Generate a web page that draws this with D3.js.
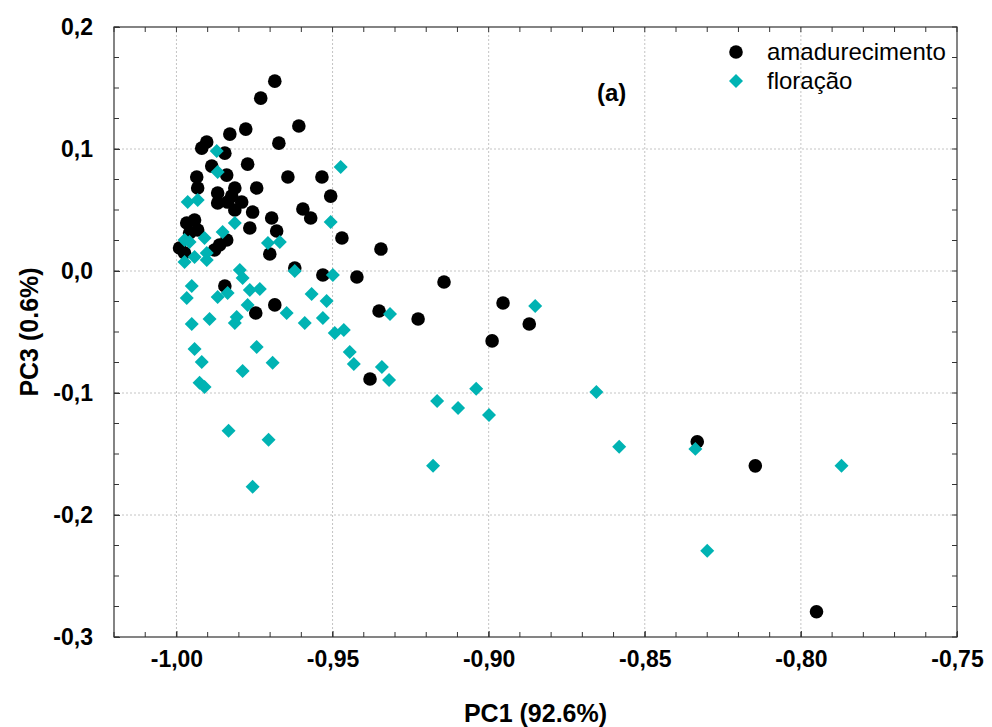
<!DOCTYPE html>
<html>
<head>
<meta charset="utf-8">
<script src="https://cdn.jsdelivr.net/npm/d3@7"></script>
<style>
  body { margin: 0; background: #fff; }
  svg { display: block; font-family: "Liberation Sans", Arial, sans-serif; }
</style>
</head>
<body>
<svg id="chart" width="992" height="727"></svg>
<script>
// amadurecimento (black circles)
const amadX = [-0.9685, -0.973, -0.9608, -0.9778, -0.9829, -0.9672, -0.9903, -0.9919, -0.9845, -0.9772,
  -0.9887, -0.9839, -0.9935, -0.9643, -0.9534, -0.9932, -0.9868, -0.9813, -0.9743, -0.9506,
  -0.9836, -0.9791, -0.9595, -0.957, -0.9756, -0.9695, -0.9813, -0.9868, -0.9967, -0.9942,
  -0.9958, -0.9932, -0.9765, -0.9679, -0.947, -0.9862, -0.9839, -0.9878, -0.999, -0.9974,
  -0.9345, -0.9701, -0.9621, -0.9531, -0.9422, -0.9143, -0.9845, -0.9746, -0.9685, -0.9351,
  -0.9226, -0.8954, -0.887, -0.8989, -0.938, -0.8332, -0.8146, -0.795, -0.9823]
const amadY = [0.1556, 0.1417, 0.1188, 0.1163, 0.1122, 0.1048, 0.1057, 0.1007, 0.0966, 0.0876,
  0.086, 0.0786, 0.077, 0.077, 0.077, 0.068, 0.0639, 0.068, 0.068, 0.0614,
  0.0565, 0.0565, 0.0508, 0.0434, 0.0483, 0.0434, 0.05, 0.0557, 0.0393, 0.0418,
  0.0311, 0.0336, 0.0352, 0.0328, 0.027, 0.0213, 0.0254, 0.0172, 0.0188, 0.0147,
  0.018, 0.0139, 0.0025, -0.0033, -0.0049, -0.009, -0.0123, -0.0344, -0.0278, -0.0328,
  -0.0393, -0.0262, -0.0434, -0.0573, -0.0885, -0.14, -0.1597, -0.2793, 0.0614]

// floração (teal diamonds)
const florX = [-0.9474, -0.9871, -0.9868, -0.9964, -0.9932, -0.9813, -0.9852, -0.991, -0.9974, -0.9958,
  -0.9903, -0.9942, -0.9974, -0.9903, -0.9797, -0.9788, -0.9707, -0.9669, -0.9506, -0.9621,
  -0.9499, -0.9951, -0.9967, -0.9868, -0.9836, -0.9765, -0.9733, -0.9772, -0.9807, -0.9813,
  -0.9894, -0.9951, -0.9942, -0.9919, -0.9743, -0.9788, -0.9926, -0.991, -0.9567, -0.9519,
  -0.9647, -0.9589, -0.9531, -0.9493, -0.9464, -0.9445, -0.9432, -0.9692, -0.9316, -0.8851,
  -0.9342, -0.9319, -0.904, -0.9165, -0.9098, -0.8999, -0.8655, -0.9833, -0.9705, -0.9756,
  -0.9178, -0.8582, -0.8338, -0.83, -0.787]
const florY = [0.0852, 0.0983, 0.0811, 0.0565, 0.0581, 0.0393, 0.0319, 0.027, 0.0254, 0.0238,
  0.0147, 0.0115, 0.0074, 0.009, 0.0008, -0.0057, 0.0229, 0.0238, 0.0401, 0.0,
  -0.0033, -0.0123, -0.0221, -0.0213, -0.018, -0.0156, -0.0147, -0.0278, -0.0377, -0.0426,
  -0.0393, -0.0434, -0.0639, -0.0745, -0.0622, -0.0819, -0.0917, -0.095, -0.0188, -0.0246,
  -0.0344, -0.0426, -0.0385, -0.0508, -0.0483, -0.0663, -0.0762, -0.0753, -0.0352, -0.0287,
  -0.0786, -0.0893, -0.0966, -0.1065, -0.1122, -0.118, -0.0991, -0.131, -0.1384, -0.1769,
  -0.1597, -0.1441, -0.1458, -0.2293, -0.1597]

const xTicks = [-1.00, -0.95, -0.90, -0.85, -0.80, -0.75]
const yTicks = [0.2, 0.1, 0.0, -0.1, -0.2, -0.3]
const seriesNames = ["amadurecimento", "floração"]

const black = "#000"
const teal = "#00b3b3"

const svg = d3.select("#chart")
const mLeft = 114, mRight = 957, mTop = 27, mBottom = 637

const x = d3.scaleLinear().domain([-1.02, -0.75]).range([mLeft, mRight])
const y = d3.scaleLinear().domain([-0.3, 0.2]).range([mBottom, mTop])

const fmt = (n) => d => (d < -1e-9 ? "-" : "") + Math.abs(d).toFixed(n).replace(".", ",")

// grid
svg.append("g").selectAll("line").data(xTicks.slice(0, -1)).join("line")
  .attr("x1", d => x(d)).attr("x2", d => x(d)).attr("y1", mTop).attr("y2", mBottom)
  .attr("stroke", "#c4c4c4").attr("stroke-dasharray", "2,2")
svg.append("g").selectAll("line").data(yTicks.slice(1, -1)).join("line")
  .attr("y1", d => y(d)).attr("y2", d => y(d)).attr("x1", mLeft).attr("x2", mRight)
  .attr("stroke", "#c4c4c4").attr("stroke-dasharray", "2,2")

// minor ticks on all four sides
const xMinor = d3.range(-1.02, -0.7499, 0.01)
const yMinor = d3.range(-0.3, 0.2001, 0.025)
const tickCol = "#333"
svg.append("g").selectAll("line").data(xMinor).join("line")
  .attr("x1", d => x(d)).attr("x2", d => x(d)).attr("y1", mBottom).attr("y2", mBottom - 5).attr("stroke", tickCol)
svg.append("g").selectAll("line").data(xMinor).join("line")
  .attr("x1", d => x(d)).attr("x2", d => x(d)).attr("y1", mTop).attr("y2", mTop + 5).attr("stroke", tickCol)
svg.append("g").selectAll("line").data(yMinor).join("line")
  .attr("y1", d => y(d)).attr("y2", d => y(d)).attr("x1", mLeft).attr("x2", mLeft + 5).attr("stroke", tickCol)
svg.append("g").selectAll("line").data(yMinor).join("line")
  .attr("y1", d => y(d)).attr("y2", d => y(d)).attr("x1", mRight).attr("x2", mRight - 5).attr("stroke", tickCol)

// axes (labels)
const xAxis = svg.append("g").attr("transform", `translate(0,${mBottom})`)
  .call(d3.axisBottom(x).tickValues(xTicks).tickFormat(fmt(2)).tickSize(-6).tickPadding(14))
const yAxis = svg.append("g").attr("transform", `translate(${mLeft},0)`)
  .call(d3.axisLeft(y).tickValues(yTicks).tickFormat(fmt(1)).tickSize(-6).tickPadding(21))
;[xAxis, yAxis].forEach(a => {
  a.select(".domain").remove()
  a.selectAll("line").attr("stroke", tickCol)
  a.selectAll("text").attr("fill", "#000").style("font-size", "23px").style("font-weight", "bold")
    .style("font-family", "'Liberation Sans', Arial, sans-serif")
})

// frame
svg.append("rect").attr("x", mLeft).attr("y", mTop).attr("width", mRight - mLeft).attr("height", mBottom - mTop)
  .attr("fill", "none").attr("stroke", "#333").attr("stroke-width", 1.2)

// points
const amad = amadX.map((d, i) => [d, amadY[i]])
const flor = florX.map((d, i) => [d, florY[i]])
const diamond = d3.symbol().type(d3.symbolSquare).size(98)

svg.append("g").selectAll("circle").data(amad).join("circle")
  .attr("cx", d => x(d[0])).attr("cy", d => y(d[1])).attr("r", 6.8).attr("fill", black)
svg.append("g").selectAll("path").data(flor).join("path")
  .attr("d", diamond)
  .attr("transform", d => `translate(${x(d[0])},${y(d[1])}) rotate(45)`)
  .attr("fill", teal)

// legend
const lg = svg.append("g").style("font-size", "24px")
lg.append("circle").attr("cx", 736).attr("cy", 52).attr("r", 6.8).attr("fill", black)
lg.append("path").attr("d", diamond).attr("transform", "translate(736,81) rotate(45)").attr("fill", teal)
lg.append("text").attr("x", 767).attr("y", 60).text(seriesNames[0])
lg.append("text").attr("x", 767).attr("y", 89).text(seriesNames[1])

svg.append("text").attr("x", 597).attr("y", 101).style("font-size", "24px").style("font-weight", "bold").text("(a)")

// axis titles
svg.append("text").attr("x", (mLeft + mRight) / 2).attr("y", 722).attr("text-anchor", "middle")
  .style("font-size", "25px").style("font-weight", "bold").text("PC1 (92.6%)")
svg.append("text").attr("transform", `translate(38,${(mTop + mBottom) / 2}) rotate(-90)`).attr("text-anchor", "middle")
  .style("font-size", "25px").style("font-weight", "bold").text("PC3 (0.6%)")
</script>
</body>
</html>
